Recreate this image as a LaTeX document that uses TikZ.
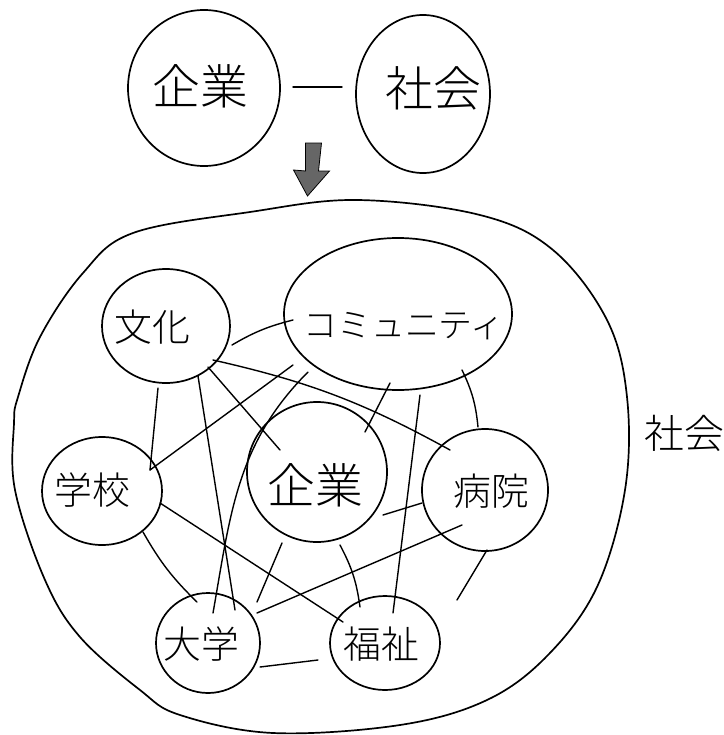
\documentclass[tikz,border=0pt]{standalone}
\usepackage{fontspec}
\newfontfamily\cjk[UprightFont={Noto Sans CJK JP Light}]{Noto Sans CJK JP}
\usetikzlibrary{shapes.geometric,calc,arrows.meta}
\tikzset{
  blob/.style={draw, ellipse, line width=1.7bp, inner sep=0pt},
  lbl/.style={font=\cjk\fontsize{38}{38}\selectfont, inner sep=0pt},
  biglbl/.style={font=\cjk\fontsize{48}{48}\selectfont, inner sep=0pt},
  link/.style={line width=1.4bp, line cap=round},
  outline/.style={line width=1.7bp}
}
\begin{document}
\begin{tikzpicture}[x=1bp, y=-1bp]
\useasboundingbox (0,0) rectangle (724,735);
% top part
\node[blob, minimum width=152bp, minimum height=156bp] (topkig) at (204,88) {};
\node[biglbl] (topkigT) at (200,86) {企業};
\node[blob, minimum width=134bp, minimum height=158bp] (topsha) at (423,94) {};
\node[biglbl] (topshaT) at (433,88) {社会};
\draw[link] ($(topkig)+(89,-1)$) -- ($(topsha)+(-81,-7)$);
\coordinate (arrowtop) at ($(topkig)!0.5!(topsha)+(0,52)$);
\draw[fill=black!60, line width=0.8bp] (arrowtop) ++(-8,0) -- ++(16,0) -- ++(-3,28) -- ++(11,0) -- ++(-22,25) -- ++(-14,-26) -- ++(12,1) -- cycle;
% big society outline
\draw[outline] plot[smooth cycle, tension=0.6] coordinates {
 (357,200) (480,215) (553,250) (607,320) (627,397) (625,490) (597,587)
 (548,655) (487,700) (400,725) (273,733) (180,715) (140,690) (80,637)
 (45,580) (15,490) (14,423) (18,397) (40,337) (83,273) (133,233) (250,212)};
\node[font=\cjk\fontsize{40}{40}\selectfont, inner sep=0pt] (shakaiT) at (684,433) {社会};
% inner nodes
\node[blob, minimum width=128bp, minimum height=114bp] (bunka) at (166,326) {};
\node[lbl] (bunkaT) at (152,327) {文化};
\node[blob, minimum width=228bp, minimum height=152bp] (comm) at (398,314) {};
\node[font=\cjk\fontsize{34}{34}\selectfont, inner sep=0pt] (commT) at (404,326) {コミュニティ};
\node[blob, minimum width=120bp, minimum height=108bp] (gakko) at (102,491) {};
\node[lbl] (gakkoT) at (92,490) {学校};
\node[blob, minimum width=140bp, minimum height=140bp] (kigyo) at (317,472) {};
\node[biglbl] (kigyoT) at (315,485) {企業};
\node[blob, minimum width=126bp, minimum height=122bp] (byoin) at (485,490) {};
\node[lbl] (byoinT) at (491,491) {病院};
\node[blob, minimum width=104bp, minimum height=100bp] (daigaku) at (208,643) {};
\node[lbl] (daigakuT) at (201,644) {大学};
\node[blob, minimum width=110bp, minimum height=94bp] (fukushi) at (385,643) {};
\node[lbl] (fukushiT) at (381,644) {福祉};
\coordinate (freeend) at ($(byoin)+(-28,110)$);
% connectors
\draw[link] ($(bunka)+(66,19)$) to[bend left=8] ($(comm)+(-105,6)$);
\draw[link] ($(bunka)+(-8,62)$) -- ($(gakko)+(48,-21)$);
\draw[link] ($(comm)+(-105,51)$) -- ($(gakko)+(48,-21)$);
\draw[link] ($(comm)+(-90,58)$) to[out=225,in=80] ($(daigaku)+(5,-30)$);
\draw[link] ($(bunka)+(32,50)$) -- ($(daigaku)+(27,-33)$);
\draw[link] ($(bunka)+(42,41)$) -- ($(kigyo)+(-37,-22)$);
\draw[link] ($(bunka)+(47,34)$) to[bend left=8] ($(byoin)+(-35,-40)$);
\draw[link] ($(comm)+(-8,69)$) -- ($(kigyo)+(48,-40)$);
\draw[link] ($(comm)+(22,81)$) -- ($(fukushi)+(8,-30)$);
\draw[link] ($(comm)+(64,56)$) to[bend left=10] ($(byoin)+(-7,-63)$);
\draw[link] ($(gakko)+(58,12)$) -- ($(fukushi)+(-42,-21)$);
\draw[link] ($(gakko)+(41,41)$) to[bend right=8] ($(daigaku)+(-11,-41)$);
\draw[link] ($(kigyo)+(-35,71)$) -- ($(daigaku)+(49,-41)$);
\draw[link] ($(kigyo)+(23,73)$) to[bend left=10] ($(fukushi)+(-25,-36)$);
\draw[link] ($(byoin)+(-23,35)$) -- ($(daigaku)+(49,-30)$);
\draw[link] ($(byoin)+(-63,13)$) -- ($(kigyo)+(66,43)$);
\draw[link] ($(byoin)+(2,60)$) -- (freeend);
\draw[link] ($(daigaku)+(52,24)$) -- ($(fukushi)+(-67,17)$);
\end{tikzpicture}
\end{document}
